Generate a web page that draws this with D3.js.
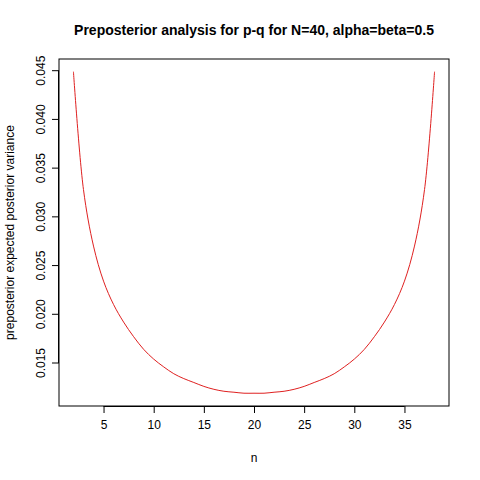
<!DOCTYPE html>
<html><head><meta charset="utf-8">
<script src="https://cdn.jsdelivr.net/npm/d3@7"></script>
<style>body{margin:0;background:#fff}text{font-family:"Liberation Sans",Arial,sans-serif}</style>
</head><body><svg id="chart"></svg>
<script>
// symmetric around n=20
let nVals = d3.range(2, 39)
let leftHalf = [0.0449, 0.0328, 0.0270, 0.0234, 0.0210, 0.0192, 0.0177, 0.0164, 0.0154, 0.0146,
                0.0139, 0.0134, 0.0130, 0.0126, 0.0123, 0.0121, 0.0120, 0.0119, 0.0119]
let variance = leftHalf.concat(leftHalf.slice(0, -1).reverse())
let xTicks = [5, 10, 15, 20, 25, 30, 35]
let yTicks = [0.015, 0.020, 0.025, 0.030, 0.035, 0.040, 0.045]

let w = 480, h = 480
let m = {t: 59, r: 31, b: 74, l: 59}
let svg = d3.select('#chart').attr('width', w).attr('height', h)

let x = d3.scaleLinear().domain([0.56, 39.44]).range([m.l, w - m.r])
// 0.045 sits at y=70.7 and 0.015 at y=363
let yRef = d3.scaleLinear().domain([0.045, 0.015]).range([70.7, 363])
let y = d3.scaleLinear()
    .domain([yRef.invert(h - m.b), yRef.invert(m.t)])
    .range([h - m.b, m.t])

svg.append('rect')
    .attr('x', m.l).attr('y', m.t)
    .attr('width', w - m.r - m.l).attr('height', h - m.b - m.t)
    .attr('fill', 'none').attr('stroke', '#000')

let xAxis = svg.append('g')
    .attr('transform', `translate(0, ${h - m.b})`)
    .call(d3.axisBottom(x).tickValues(xTicks).tickSize(7).tickPadding(7))
xAxis.select('.domain').attr('d', `M${x(5)},0.5H${x(35)}`)
xAxis.selectAll('text').attr('font-size', 12).attr('fill', '#000')

let yAxis = svg.append('g')
    .attr('transform', `translate(${m.l}, 0)`)
    .call(d3.axisLeft(y).tickValues(yTicks).tickSize(7).tickFormat(d3.format('.3f')))
yAxis.select('.domain').attr('d', `M-0.5,${y(0.015)}V${y(0.045)}`)
yAxis.selectAll('.tick').attr('transform', 'translate(0,0)')
yAxis.selectAll('.tick line').attr('transform', d => `translate(0, ${y(d)})`)
yAxis.selectAll('text')
    .attr('font-size', 12).attr('fill', '#000')
    .attr('text-anchor', 'middle').attr('dy', 0)
    .attr('x', 0).attr('y', 0)
    .attr('transform', d => `translate(-14, ${y(d)}) rotate(-90)`)

svg.append('path')
    .datum(nVals.map((n, i) => [n, variance[i]]))
    .attr('fill', 'none').attr('stroke', '#df2020').attr('stroke-width', 1)
    .attr('d', d3.line().x(d => x(d[0])).y(d => y(d[1])).curve(d3.curveCatmullRom))

svg.append('text').attr('x', (m.l + w - m.r) / 2).attr('y', 35)
    .attr('text-anchor', 'middle').attr('font-size', 14).attr('font-weight', 'bold')
    .text('Preposterior analysis for p-q for N=40, alpha=beta=0.5')
svg.append('text').attr('x', (m.l + w - m.r) / 2).attr('y', 462)
    .attr('text-anchor', 'middle').attr('font-size', 12).text('n')
svg.append('text')
    .attr('transform', `translate(14, ${(m.t + h - m.b) / 2}) rotate(-90)`)
    .attr('text-anchor', 'middle').attr('font-size', 12)
    .text('preposterior expected posterior variance')
</script></body></html>
